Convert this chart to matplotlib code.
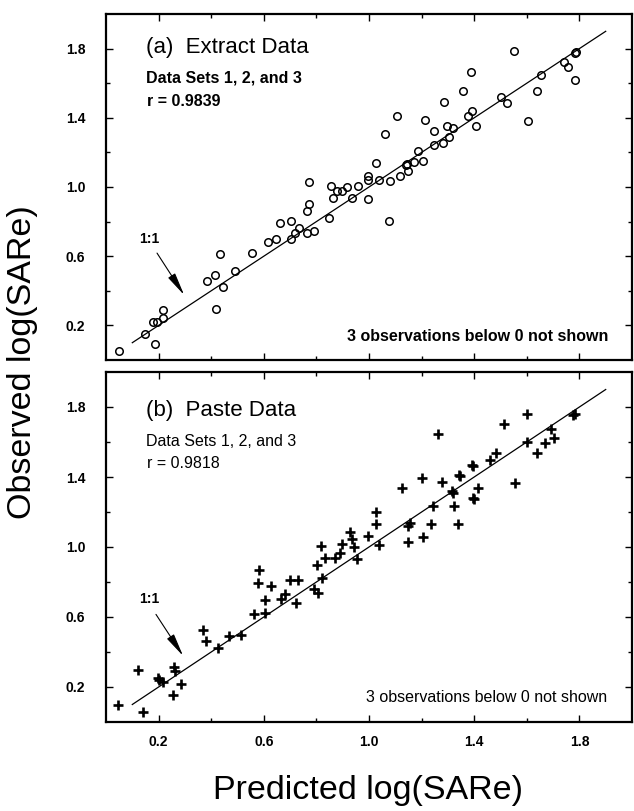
# -*- coding: utf-8 -*-
"""
Observed vs predicted log(SARe): (a) extract data, (b) paste data.
Two stacked scatter panels with a 1:1 line, scanned-figure look.
"""
import matplotlib
matplotlib.use("Agg")
import matplotlib.pyplot as plt

INK = "black"
BASE = ["Liberation Sans", "DejaVu Sans"]

plt.rcParams.update({
    "font.family": BASE,
    "figure.facecolor": "white",
    "text.color": INK,
    "axes.edgecolor": INK,
})

# ---------------------------- данные ----------------------------
EXTRACT_PRED = [0.051, 0.150, 0.186, 0.178, 0.193, 0.218, 0.218, 0.417,
                0.383, 0.414, 0.433, 0.446, 0.492, 0.556, 0.615, 0.646,
                0.660, 0.703, 0.703, 0.719, 0.732, 0.766, 0.791, 0.772,
                0.772, 0.766, 0.848, 0.855, 0.862, 0.879, 0.898, 0.915,
                0.936, 0.958, 0.996, 0.996, 0.996, 1.039, 1.028, 1.062,
                1.078, 1.077, 1.106, 1.119, 1.146, 1.142, 1.150, 1.173,
                1.188, 1.207, 1.213, 1.247, 1.248, 1.280, 1.286, 1.297,
                1.305, 1.320, 1.358, 1.377, 1.392, 1.406, 1.389, 1.503,
                1.524, 1.553, 1.606, 1.639, 1.655, 1.740, 1.758, 1.784,
                1.787, 1.784]
EXTRACT_OBS = [0.052, 0.149, 0.091, 0.218, 0.221, 0.289, 0.241, 0.295,
               0.458, 0.493, 0.611, 0.424, 0.516, 0.620, 0.680, 0.698,
               0.790, 0.805, 0.699, 0.732, 0.765, 0.736, 0.746, 1.027,
               0.902, 0.861, 0.823, 1.008, 0.935, 0.977, 0.977, 1.002,
               0.938, 1.008, 0.929, 1.065, 1.042, 1.040, 1.140, 1.306,
               1.036, 0.805, 1.409, 1.065, 1.133, 1.128, 1.091, 1.143,
               1.206, 1.152, 1.389, 1.325, 1.243, 1.253, 1.490, 1.351,
               1.287, 1.339, 1.557, 1.409, 1.438, 1.351, 1.667, 1.518,
               1.487, 1.788, 1.383, 1.557, 1.646, 1.721, 1.695, 1.775,
               1.780, 1.620]

PASTE_PRED = [0.045, 0.140, 0.121, 0.203, 0.218, 0.196, 0.259, 0.263,
              0.285, 0.256, 0.367, 0.379, 0.427, 0.467, 0.515, 0.562,
              0.603, 0.581, 0.577, 0.627, 0.606, 0.665, 0.681, 0.700,
              0.729, 0.722, 0.792, 0.807, 0.822, 0.803, 0.833, 0.816,
              0.870, 0.889, 0.898, 0.927, 0.936, 0.943, 0.955, 0.996,
              1.028, 1.026, 1.039, 1.125, 1.147, 1.156, 1.147, 1.207,
              1.236, 1.200, 1.245, 1.263, 1.279, 1.314, 1.320, 1.324,
              1.339, 1.343, 1.346, 1.393, 1.396, 1.398, 1.394, 1.415,
              1.459, 1.484, 1.515, 1.556, 1.600, 1.600, 1.638, 1.669,
              1.692, 1.702, 1.776, 1.782]
PASTE_OBS = [0.097, 0.055, 0.298, 0.239, 0.230, 0.251, 0.312, 0.292,
             0.220, 0.154, 0.524, 0.463, 0.425, 0.492, 0.498, 0.615,
             0.621, 0.866, 0.792, 0.777, 0.697, 0.705, 0.733, 0.809,
             0.809, 0.682, 0.758, 0.739, 0.824, 0.900, 0.938, 1.005,
             0.938, 0.967, 1.018, 1.087, 1.043, 0.999, 0.929, 1.062,
             1.198, 1.130, 1.009, 1.335, 1.121, 1.136, 1.026, 1.060,
             1.134, 1.392, 1.235, 1.647, 1.373, 1.320, 1.307, 1.236,
             1.130, 1.411, 1.405, 1.468, 1.462, 1.272, 1.280, 1.335,
             1.497, 1.540, 1.702, 1.368, 1.759, 1.601, 1.538, 1.597,
             1.677, 1.624, 1.753, 1.760]

MAJOR = [0.2, 0.6, 1.0, 1.4, 1.8]
MINOR = [0.4, 0.8, 1.2, 1.6]
ONE_TO_ONE = [0.1, 1.9]
LIMS = (0.0, 2.0)

# ---------------------------- фигура ----------------------------
W, H = 634, 811
fig = plt.figure(figsize=(W / 100, H / 100), dpi=100)


def rect(left, top, right, bottom):
    return [left / W, 1 - bottom / H, (right - left) / W, (bottom - top) / H]


ax_a = fig.add_axes(rect(106, 14, 632, 360))
ax_b = fig.add_axes(rect(106, 372, 632, 722))


def panel(ax, px, py, marker, ms, mew, title, r, ys, weight,
          note_xy, label_xy, arrow_from, arrow_to, xlabels):
    ax.plot(ONE_TO_ONE, ONE_TO_ONE, color=INK, lw=0.9, zorder=1)
    ax.plot(px, py, ls="none", marker=marker, ms=ms, mew=mew,
            mfc="none", mec=INK, zorder=2)
    ax.set_xlim(*LIMS)
    ax.set_ylim(*LIMS)
    for sp in ax.spines.values():
        sp.set_linewidth(1.6)

    ax.set_xticks(MAJOR)
    ax.set_xticks(MINOR, minor=True)
    ax.set_yticks(MAJOR, labels=[f"{v:.1f}" for v in MAJOR],
                  fontsize=10, fontweight="bold")
    ax.set_yticks(MINOR, minor=True)
    if xlabels:
        ax.set_xticklabels([f"{v:.1f}" for v in MAJOR],
                           fontsize=10, fontweight="bold")
    else:
        ax.set_xticklabels([])
    ax.tick_params(which="both", direction="in", top=True, right=True,
                   width=1)
    ax.tick_params(which="major", length=5)
    ax.tick_params(which="minor", length=3)
    ax.tick_params(axis="y", pad=15)
    ax.tick_params(axis="x", pad=9)

    tr = ax.transAxes
    ax.text(0.076, ys[0], title, transform=tr, fontsize=16, va="center")
    ax.text(0.076, ys[1], "Data Sets 1, 2, and 3", transform=tr,
            fontsize=11.5, fontweight=weight, va="center")
    ax.text(0.078, ys[2], f"r = {r}", transform=tr,
            fontsize=11.5, fontweight=weight, va="center")
    ax.text(note_xy[0], note_xy[1], "3 observations below 0 not shown",
            transform=tr, fontsize=11.5, fontweight=weight,
            ha="right", va="center")

    ax.text(label_xy[0], label_xy[1], "1:1", fontsize=10,
            fontweight="bold", ha="center", va="center")
    ax.annotate("", xy=arrow_to, xytext=arrow_from,
                arrowprops=dict(arrowstyle="-|>,head_length=1.0,"
                                           "head_width=0.18",
                                color=INK, lw=0.8, shrinkA=0,
                                shrinkB=0, mutation_scale=14))


panel(ax_a, EXTRACT_PRED, EXTRACT_OBS, "o", 5.4, 1.1,
      "(a)  Extract Data", "0.9839", (0.903, 0.815, 0.746), "bold",
      (0.956, 0.069), (0.165, 0.698), (0.194, 0.618), (0.297, 0.376),
      False)
panel(ax_b, PASTE_PRED, PASTE_OBS, "+", 6.5, 1.9,
      "(b)  Paste Data", "0.9818", (0.889, 0.802, 0.739), "normal",
      (0.952, 0.071), (0.165, 0.705), (0.190, 0.615), (0.293, 0.378),
      True)

fig.text(23 / W, 1 - 362 / H, "Observed log(SARe)", rotation=90,
         fontsize=24.5, ha="center", va="center")
fig.text(368 / W, 1 - 790 / H, "Predicted log(SARe)",
         fontsize=24.5, ha="center", va="center")

fig.savefig("out.png", dpi=100)
